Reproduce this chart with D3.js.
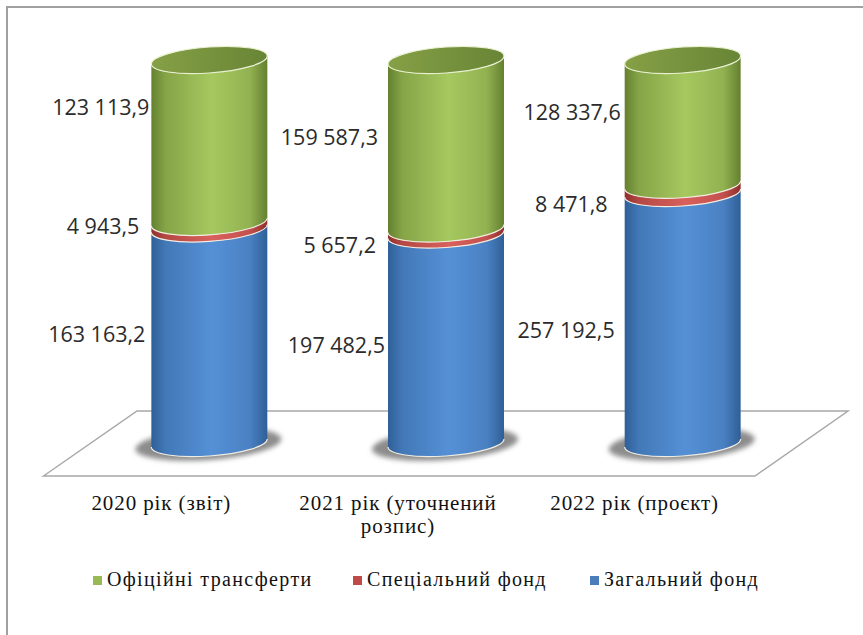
<!DOCTYPE html>
<html>
<head>
<meta charset="utf-8">
<script src="https://cdn.jsdelivr.net/npm/d3@7"></script>
<style>
  body { margin: 0; background: #fff; }
  svg { display: block; }
  .value { font-family: "Open Sans", sans-serif; font-size: 21.5px; fill: #2b2b2b; }
  .category { font-family: "Liberation Serif", serif; font-size: 21px; fill: #111; text-anchor: middle; letter-spacing: 0.9px; }
  .legend { font-family: "Liberation Serif", serif; font-size: 20px; fill: #111; letter-spacing: 1.35px; }
</style>
</head>
<body>
<div id="chart"></div>
<script>
// Data
const categories = ['2020 рік (звіт)', '2021 рік (уточнений розпис)', '2022 рік (проєкт)'];
const zagalnyi = [163163.2, 197482.5, 257192.5];
const spetsialnyi = [4943.5, 5657.2, 8471.8];
const transferty = [123113.9, 159587.3, 128337.6];
const valueLabels = [
  ['163 163,2', '197 482,5', '257 192,5'],
  ['4 943,5', '5 657,2', '8 471,8'],
  ['123 113,9', '159 587,3', '128 337,6']
];
const seriesNames = ['Загальний фонд', 'Спеціальний фонд', 'Офіційні трансферти'];

// Shades for each series: edge, light centre, flat legend colour
const seriesColors = [
  { edge: '#2f5f97', mid: '#5590d6', flat: '#4a7ebb' },
  { edge: '#8f2f2c', mid: '#d9605c', flat: '#be4b48' },
  { edge: '#64802f', mid: '#a6c85f', flat: '#98b954' }
];

const width = 863;
const height = 635;

const table = categories.map((c, i) => ({
  category: c, s0: zagalnyi[i], s1: spetsialnyi[i], s2: transferty[i]
}));
const stacked = d3.stack()
  .keys(['s0', 's1', 's2'])
  .offset(d3.stackOffsetExpand)(table);

const x = d3.scaleBand()
  .domain(categories)
  .range([91, 801])
  .paddingInner(0.51)
  .paddingOuter(0.255);
const y = d3.scaleLinear().domain([0, 1]).range([443, 60]);

const rx = x.bandwidth() / 2;
const ry = 13;
const tilt = -0.069; // the ellipses lean up to the right

const svg = d3.select('#chart').append('svg')
  .attr('width', width)
  .attr('height', height);

// Picture frame, only left and top show in the crop
svg.append('path')
  .attr('d', 'M7,635V7H863')
  .attr('fill', 'none')
  .attr('stroke', '#a0a0a0')
  .attr('stroke-width', 2);

// Gradients
const defs = svg.append('defs');
seriesColors.forEach((c, i) => {
  const g = defs.append('linearGradient').attr('id', 'body' + i);
  g.append('stop').attr('offset', '0%').attr('stop-color', c.edge);
  g.append('stop').attr('offset', '12%').attr('stop-color', d3.interpolateRgb(c.edge, c.mid)(0.5));
  g.append('stop').attr('offset', '52%').attr('stop-color', c.mid);
  g.append('stop').attr('offset', '85%').attr('stop-color', d3.interpolateRgb(c.edge, c.mid)(0.7));
  g.append('stop').attr('offset', '100%').attr('stop-color', c.edge);
});
const capGrad = defs.append('linearGradient').attr('id', 'cap');
capGrad.append('stop').attr('offset', '0%').attr('stop-color', '#86a046');
capGrad.append('stop').attr('offset', '100%').attr('stop-color', '#688536');
defs.append('filter').attr('id', 'blur')
  .attr('x', '-30%').attr('y', '-60%').attr('width', '160%').attr('height', '220%')
  .append('feGaussianBlur').attr('stdDeviation', 2.5);

// Floor
const floor = [[43.5, 476], [137, 411], [848, 411], [755, 476]];
svg.append('path')
  .attr('d', d3.line()(floor) + 'Z')
  .attr('fill', '#fff')
  .attr('stroke', '#a8a8a8')
  .attr('stroke-width', 1.5);

// One group per cylinder, sheared so the ellipses tilt
const bars = svg.selectAll('.bar')
  .data(categories)
  .join('g')
    .attr('class', 'bar')
    .attr('transform', d => `translate(${x(d) + rx},0) matrix(1,${tilt},0,1,0,0)`);

// Shadow under the base
bars.append('ellipse')
  .attr('cx', -1)
  .attr('cy', y(0) + 1)
  .attr('rx', rx + 15)
  .attr('ry', ry + 3)
  .attr('fill', '#8c8c8c')
  .attr('filter', 'url(#blur)');

// Cylinder segments
stacked.forEach((layer, s) => {
  bars.append('path')
    .datum((d, i) => layer[i])
    .attr('d', d => {
      const y0 = y(d[1]);
      const y1 = y(d[0]);
      return `M${-rx},${y0}A${rx},${ry} 0 0 0 ${rx},${y0}L${rx},${y1}A${rx},${ry} 0 0 1 ${-rx},${y1}Z`;
    })
    .attr('fill', `url(#body${s})`);
});

// Pale rims at the segment joins and round the base
stacked.forEach(layer => {
  bars.append('path')
    .datum((d, i) => layer[i])
    .attr('d', d => `M${-rx},${y(d[0])}A${rx},${ry} 0 0 0 ${rx},${y(d[0])}`)
    .attr('fill', 'none')
    .attr('stroke', '#f1ece0')
    .attr('stroke-width', 1.2);
});

// Top cap
bars.append('ellipse')
  .attr('cx', 0)
  .attr('cy', y(1))
  .attr('rx', rx)
  .attr('ry', ry)
  .attr('fill', 'url(#cap)')
  .attr('stroke', '#e8f0d0')
  .attr('stroke-width', 1.2);

// Value labels were moved by hand in the original, so each has its own nudge from the bar's left edge
const labelNudge = [
  [[-6, -1], [-3, 7], [-10, 12]],
  [[-12, 1], [-12, 14], [-17, 16]],
  [[-2, -33], [-10, -7], [-4, -10]]
];
stacked.forEach((layer, s) => {
  svg.selectAll('.value-' + s)
    .data(layer)
    .join('text')
      .attr('class', 'value value-' + s)
      .attr('text-anchor', 'end')
      .attr('x', (d, i) => x(categories[i]) + labelNudge[s][i][0])
      .attr('y', (d, i) => y((d[0] + d[1]) / 2) + labelNudge[s][i][1])
      .attr('dy', '0.35em')
      .text((d, i) => valueLabels[s][i]);
});

// Category labels sit left of their bars in the original
const catLines = [['2020 рік (звіт)'], ['2021 рік (уточнений', 'розпис)'], ['2022 рік (проєкт)']];
const catShift = -48;
svg.selectAll('.category')
  .data(categories)
  .join('text')
    .attr('class', 'category')
    .attr('y', 510)
    .each(function (d, i) {
      d3.select(this).selectAll('tspan')
        .data(catLines[i])
        .join('tspan')
          .attr('x', x(d) + rx + catShift)
          .attr('dy', (t, j) => j ? 23 : 0)
          .text(t => t);
    });

// Legend, in the reverse of stack order
const legendX = [93, 353, 590];
const legendOrder = [2, 1, 0];
const legend = svg.selectAll('.legend-item')
  .data(legendOrder)
  .join('g')
    .attr('class', 'legend-item')
    .attr('transform', (d, i) => `translate(${legendX[i]},580)`);
legend.append('rect')
  .attr('y', -4)
  .attr('width', 9)
  .attr('height', 9)
  .attr('fill', d => seriesColors[d].flat);
legend.append('text')
  .attr('class', 'legend')
  .attr('x', 14)
  .attr('y', 6)
  .text(d => seriesNames[d]);
</script>
</body>
</html>
